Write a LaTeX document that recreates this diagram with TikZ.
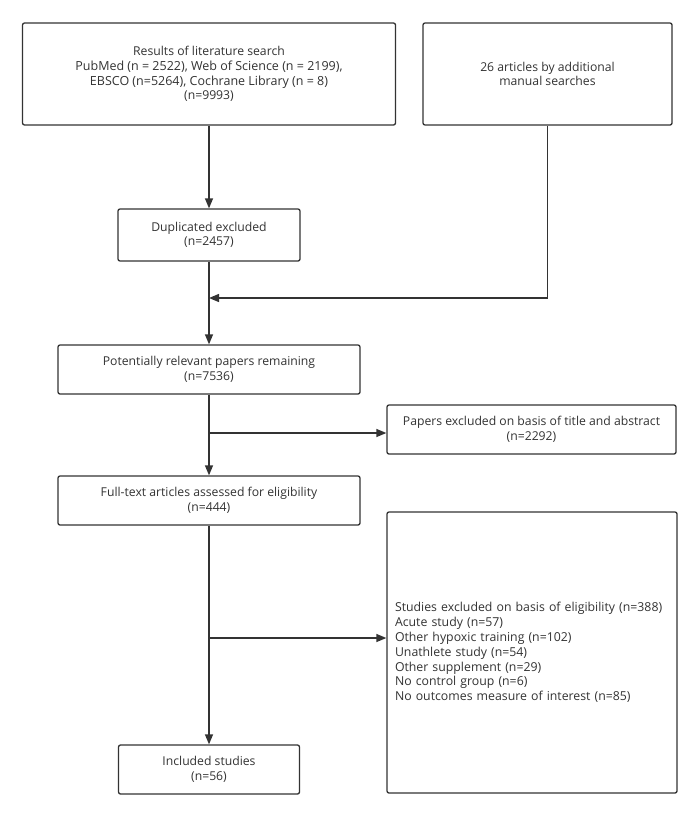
\documentclass[tikz,border=0pt]{standalone}
\usepackage{fontspec}
\setmainfont{Open Sans}
\usetikzlibrary{arrows.meta}
\definecolor{ink}{HTML}{333333}
\tikzset{
  box/.style={draw=ink, line width=1.3pt, rounded corners=2pt, fill=white,
    text=ink, align=center, font=\fontsize{12.2}{14.6}\selectfont, inner sep=0pt},
  conn/.style={draw=ink, line width=1.3pt},
  arr/.style={conn, -{Triangle[length=10pt,width=8pt]}}
}
\begin{document}
\begin{tikzpicture}[x=1pt,y=-1pt]
\useasboundingbox (0,0) rectangle (700,819);
\node[box, minimum width=373pt, minimum height=102pt] (A) at (209,74)
  {Results of literature search\\{\fontsize{12.5}{14.4}\selectfont PubMed (n = 2522), Web of Science (n = 2199),}\\{\fontsize{12.5}{14.4}\selectfont EBSCO (n=5264), Cochrane Library (n = 8)}\\(n=9993)};
\node[box, minimum width=249pt, minimum height=102pt] (B) at (547.5,74)
  {26 articles by additional\\manual searches};
\node[box, minimum width=182pt, minimum height=52pt] (C) at (209,235)
  {Duplicated excluded\\(n=2457)};
\node[box, minimum width=302pt, minimum height=49pt] (D) at (209,369.5)
  {Potentially relevant papers remaining\\(n=7536)};
\node[box, minimum width=289pt, minimum height=49pt] (E) at (531.5,429.5)
  {Papers excluded on basis of title and abstract\\(n=2292)};
\node[box, minimum width=302pt, minimum height=49pt] (F) at (209,500.5)
  {Full-text articles assessed for eligibility\\(n=444)};
\node[box, minimum width=290pt, minimum height=281pt, align=left, text width=274pt, inner xsep=8pt,
  font=\fontsize{12.3}{14.8}\selectfont] (G) at (532,652.5)
  {\mbox{Studies excluded on basis of eligibility (n=388)}\\\mbox{Acute study (n=57)}\\\mbox{Other hypoxic training (n=102)}\\\mbox{Unathlete study (n=54)}\\\mbox{Other supplement (n=29)}\\\mbox{No control group (n=6)}\\\mbox{No outcomes measure of interest (n=85)}};
\node[box, minimum width=181pt, minimum height=49pt] (H) at (209,769.5)
  {Included studies\\(n=56)};

\coordinate (m) at (209,298);
\coordinate (j1) at (209,433);
\coordinate (j2) at (209,638);

\draw[arr] (A.south) -- (C.north);
\draw[arr] (C.south) -- (D.north);
\draw[arr] (B.south) |- (m);
\draw[arr] (D.south) -- (F.north);
\draw[arr] (j1) -- (j1 -| E.west);
\draw[arr] (F.south) -- (H.north);
\draw[arr] (j2) -- (j2 -| G.west);
\end{tikzpicture}
\end{document}
